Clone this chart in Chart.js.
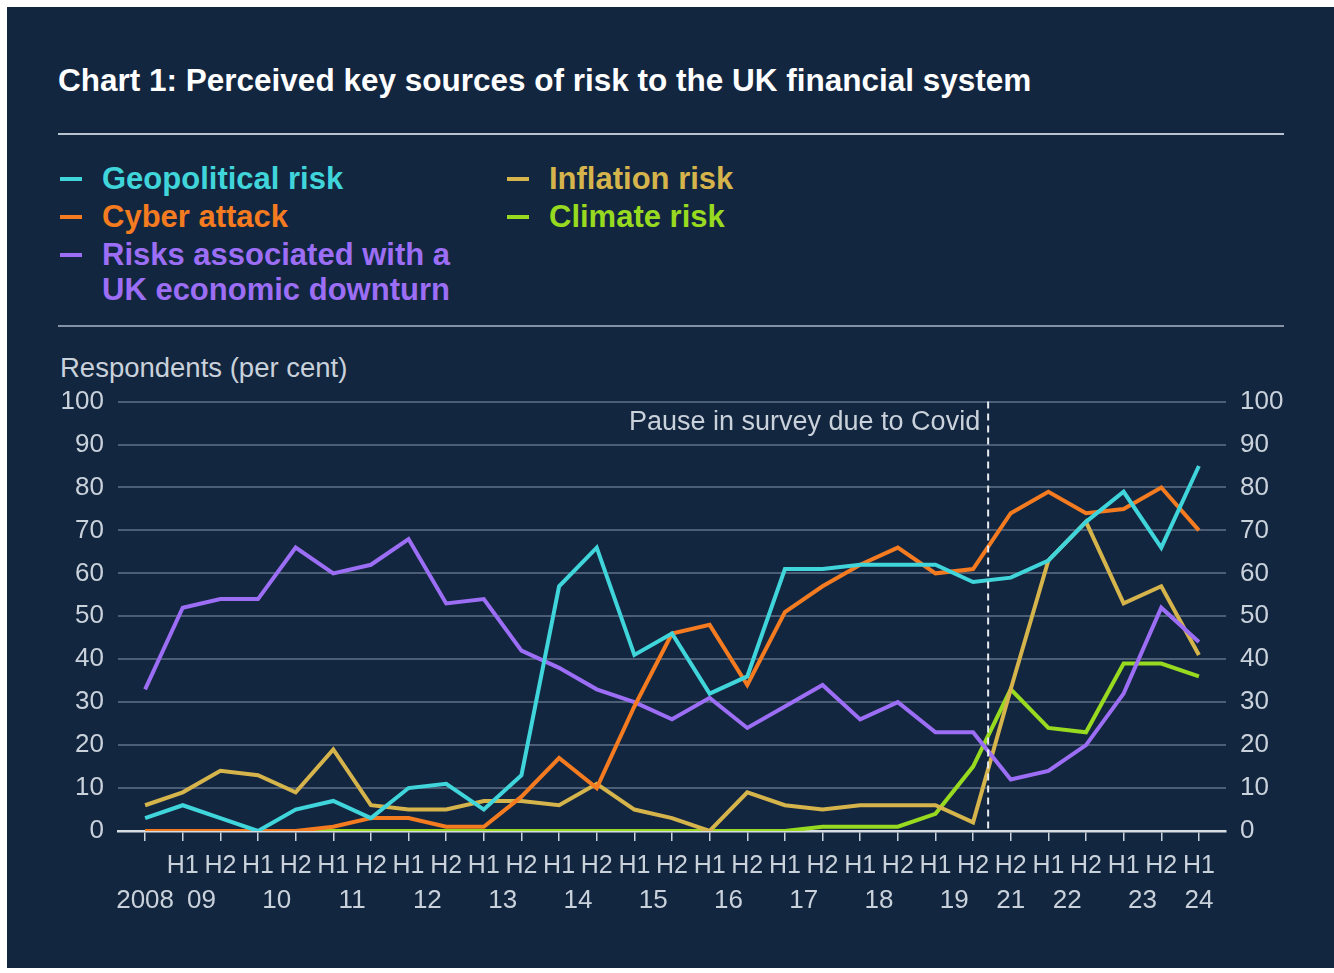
<!DOCTYPE html>
<html>
<head>
<meta charset="utf-8">
<script src="https://cdn.jsdelivr.net/npm/chart.js@4.4.1/dist/chart.umd.min.js"></script>
<style>
  body { margin: 0; background: #fff; font-family: "Liberation Sans", Arial, sans-serif; }
  #panel { position: absolute; left: 7px; top: 7px; width: 1327px; height: 961px; background: #13263f; }
  .abs { position: absolute; white-space: nowrap; }
  #title { left: 58px; top: 62px; font-size: 31.5px; font-weight: bold; color: #fff; }
  .rule { position: absolute; left: 58px; width: 1226px; }
  .leg { position: absolute; font-size: 31px; font-weight: bold; line-height: 35px; }
  .sw { position: absolute; width: 22px; height: 4px; }
  #yTitle { left: 60px; top: 352px; font-size: 27.5px; color: #c9d1db; }
  #c { position: absolute; left: 0; top: 372px; }
</style>
</head>
<body>
<div id="panel"></div>
<div id="title" class="abs">Chart 1: Perceived key sources of risk to the UK financial system</div>
<div class="rule" style="top:133px;height:2px;background:#b9c3d0"></div>
<div class="rule" style="top:325px;height:1.5px;background:#8592a5"></div>
<div id="legend"></div>
<div id="yTitle" class="abs">Respondents (per cent)</div>
<canvas id="c" width="1334" height="548"></canvas>
<script>
// half-year survey points, 2008 H2 to 2024 H1 (no survey in 2020 / 2021 H1)
const hLabels = ['', 'H1', 'H2', 'H1', 'H2', 'H1', 'H2', 'H1', 'H2', 'H1', 'H2', 'H1', 'H2', 'H1', 'H2',
                 'H1', 'H2', 'H1', 'H2', 'H1', 'H2', 'H1', 'H2', 'H2', 'H1', 'H2', 'H1', 'H2', 'H1'];
const yearLabels = ['2008', '09', '10', '11', '12', '13', '14', '15', '16', '17', '18', '19', '21', '22', '23', '24'];
const yearPos = [0, 1.5, 3.5, 5.5, 7.5, 9.5, 11.5, 13.5, 15.5, 17.5, 19.5, 21.5, 23, 24.5, 26.5, 28];
const covidPos = 22.4;

const seriesNames = ['Geopolitical risk', 'Cyber attack', 'Risks associated with a|UK economic downturn', 'Inflation risk', 'Climate risk'];
const seriesColors = ['#3fd5da', '#f47b20', '#9c6ef5', '#d6b44c', '#98da1f'];

const geopolitical = [3, 6, 3, 0, 5, 7, 3, 10, 11, 5, 13, 57, 66, 41, 46, 32, 36, 61, 61, 62, 62, 62, 58, 59, 63, 72, 79, 66, 85];
const cyber = [0, 0, 0, 0, 0, 1, 3, 3, 1, 1, 8, 17, 10, 29, 46, 48, 34, 51, 57, 62, 66, 60, 61, 74, 79, 74, 75, 80, 70];
const downturn = [33, 52, 54, 54, 66, 60, 62, 68, 53, 54, 42, 38, 33, 30, 26, 31, 24, 29, 34, 26, 30, 23, 23, 12, 14, 20, 32, 52, 44];
const inflation = [6, 9, 14, 13, 9, 19, 6, 5, 5, 7, 7, 6, 11, 5, 3, 0, 9, 6, 5, 6, 6, 6, 2, 33, 63, 72, 53, 57, 41];
const climate = [0, 0, 0, 0, 0, 0, 0, 0, 0, 0, 0, 0, 0, 0, 0, 0, 0, 0, 1, 1, 1, 4, 15, 33, 24, 23, 39, 39, 36];

const allSeries = [geopolitical, cyber, downturn, inflation, climate];

// legend (html)
const legendPos = [[58, 161], [58, 199], [58, 237], [505, 161], [505, 199]];
const legend = document.getElementById('legend');
seriesNames.forEach((name, i) => {
    const [lx, ly] = legendPos[i];
    const sw = document.createElement('div');
    sw.className = 'sw';
    sw.style.left = (lx + 2) + 'px';
    sw.style.top = (ly + 16) + 'px';
    sw.style.background = seriesColors[i];
    legend.appendChild(sw);
    const t = document.createElement('div');
    t.className = 'leg';
    t.style.left = (lx + 44) + 'px';
    t.style.top = ly + 'px';
    t.style.color = seriesColors[i];
    t.innerHTML = name.split('|').join('<br>');
    legend.appendChild(t);
});

const textColor = '#c9d1db';
Chart.defaults.font.family = '"Liberation Sans", Arial, sans-serif';
Chart.defaults.color = textColor;

const canvasTop = 372;
const extras = {
    id: 'extras',
    afterDatasetsDraw(chart) {
        const ctx = chart.ctx, area = chart.chartArea;
        const x = chart.scales.x.getPixelForValue(covidPos);
        ctx.save();
        ctx.strokeStyle = '#e8ecf0';
        ctx.lineWidth = 2;
        ctx.setLineDash([7, 5]);
        ctx.beginPath();
        ctx.moveTo(x, area.top);
        ctx.lineTo(x, area.bottom);
        ctx.stroke();
        ctx.setLineDash([]);
        ctx.fillStyle = textColor;
        ctx.font = '27px "Liberation Sans", Arial, sans-serif';
        ctx.textAlign = 'right';
        ctx.textBaseline = 'middle';
        ctx.fillText('Pause in survey due to Covid', x - 8, area.top + 21);
        ctx.restore();
    },
    afterDraw(chart) {
        const ctx = chart.ctx;
        ctx.save();
        ctx.fillStyle = textColor;
        ctx.font = '26px "Liberation Sans", Arial, sans-serif';
        ctx.textAlign = 'center';
        ctx.textBaseline = 'middle';
        yearLabels.forEach((lab, i) => {
            ctx.fillText(lab, chart.scales.x.getPixelForValue(yearPos[i]), 901 - canvasTop);
        });
        ctx.restore();
    }
};

new Chart(document.getElementById('c'), {
    type: 'line',
    data: {
        datasets: allSeries.map((s, i) => ({
            label: seriesNames[i],
            data: s.map((v, j) => ({ x: j, y: v })),
            borderColor: seriesColors[i],
            borderWidth: 4,
            pointRadius: 0,
            tension: 0,
            fill: false
        }))
    },
    options: {
        responsive: false,
        animation: false,
        layout: { padding: { top: 12 } },
        plugins: { legend: { display: false }, tooltip: { enabled: false } },
        scales: {
            x: {
                type: 'linear',
                min: -0.72,
                max: 28.72,
                afterBuildTicks: (scale) => { scale.ticks = hLabels.map((_, j) => ({ value: j })); },
                afterFit: (scale) => { scale.height = 89; },
                ticks: {
                    autoSkip: false,
                    maxRotation: 0,
                    padding: 10,
                    font: { size: 25 },
                    callback: (v) => hLabels[v]
                },
                grid: { drawOnChartArea: false, drawTicks: true, tickLength: 10, color: textColor, lineWidth: 1.5 },
                border: { color: '#d8dde4', width: 2.5 }
            },
            y: {
                position: 'left',
                min: 0,
                max: 100,
                afterFit: (scale) => { scale.width = 118; },
                ticks: { stepSize: 10, padding: 14, font: { size: 26 } },
                grid: { color: '#4c5e76', lineWidth: 2, drawTicks: false },
                border: { display: false }
            },
            y2: {
                position: 'right',
                min: 0,
                max: 100,
                afterFit: (scale) => { scale.width = 108; },
                ticks: { stepSize: 10, padding: 14, font: { size: 26 } },
                grid: { drawOnChartArea: false, drawTicks: false },
                border: { display: false }
            }
        }
    },
    plugins: [extras]
});
</script>
</body>
</html>
